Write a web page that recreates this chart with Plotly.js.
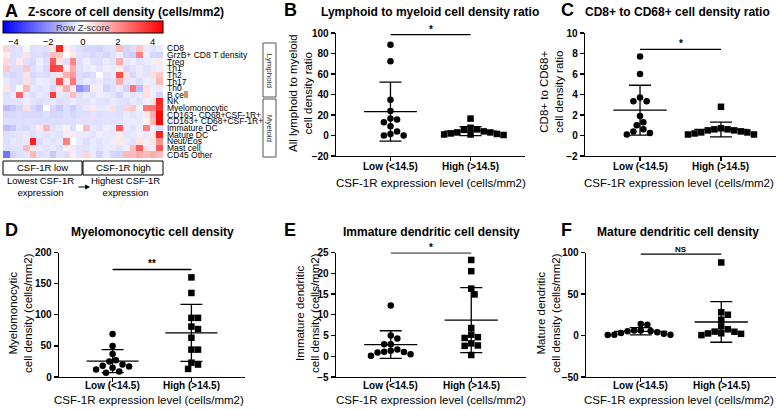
<!DOCTYPE html>
<html>
<head>
<meta charset="utf-8">
<script src="https://cdn.plot.ly/plotly-3.0.1.min.js"></script>
<style>html,body{margin:0;padding:0;background:#fff;}#chart{width:778px;height:410px;}</style>
</head>
<body>
<div id="chart"></div>
<script>
// ---------------- DATA ----------------
const rowLabels = ['CD8','GrzB+ CD8 T density','Treg','Th1','Th2','Th17','Th0','B cell','NK','Myelomonocytic',
  'CD163- CD68+CSF-1R+','CD163+ CD68+CSF-1R+','Immature DC','Mature DC','Neut/Eos','Mast cell','CD45 Other'];
// z-scores, 24 samples (12 CSF-1R low, then 12 CSF-1R high)
const zCD8     = [0.8,-0.6,-0.5,-0.2,-0.6,-0.5,-0.6,0.4,4.0,0.3,-0.4,-0.6, -0.7,-0.7,-0.8,-0.6,-0.5,1.2,-0.8,-0.6,1.0,-0.4,-0.5,-0.4];
const zGrzB    = [0.4,-0.6,-0.5,0.5,-0.6,-0.6,-0.7,1.2,1.0,0.0,0.4,-0.5, -0.6,-0.7,-0.6,-0.7,-0.5,-0.3,-0.8,-0.9,2.3,-0.3,-0.7,-0.8];
const zTreg    = [0.7,-0.6,0.4,-0.6,-0.7,-0.3,-0.6,3.0,0.5,-0.6,2.2,-0.6, -0.3,-0.5,-0.6,-0.4,-0.5,1.5,-0.4,-0.3,-0.5,-0.4,-0.3,0.4];
const zTh1     = [1.0,-0.6,-0.6,1.0,-0.6,-0.4,-0.7,3.5,3.3,0.4,1.5,-0.6, -0.4,-0.3,-0.5,-0.3,-0.4,0.4,-0.7,-0.5,-0.4,-0.5,-0.4,-0.3];
const zTh2     = [-0.6,-0.7,-0.6,0.5,-0.7,-0.6,-0.6,-0.5,0.5,1.5,1.8,-0.6, -0.7,-0.6,0.0,-0.5,-0.4,3.2,0.6,-0.7,-0.4,-0.5,0.6,1.0];
const zTh17    = [-0.4,-0.6,-0.6,0.5,-0.6,-0.3,-0.4,-0.5,3.2,0.3,2.5,-0.6, -0.4,-0.5,-0.4,-0.6,-0.5,1.5,-0.5,-0.4,-0.6,-0.3,-0.4,1.3];
const zTh0     = [0.5,-0.6,0.0,1.3,-0.4,-0.5,-0.4,-0.7,0.5,1.5,0.4,-2.0, -1.5,0.4,-0.3,-0.8,-0.6,-0.4,-0.8,2.5,-1.2,0.6,-0.3,-0.4];
const zBcell   = [-0.6,-0.4,2.8,-0.4,-0.6,-0.4,-0.5,3.5,-0.4,-0.5,1.2,-0.6, -0.4,-0.5,-0.3,-0.4,-0.5,-0.8,-0.4,-0.5,-0.4,0.6,-0.3,-0.8];
const zNK      = [-0.5,-0.5,-0.5,-0.3,-0.5,-0.6,-0.5,-0.4,-0.6,-0.5,-0.4,-0.5, -0.5,-0.4,-0.5,-0.5,-0.4,-0.5,-0.6,-0.4,-0.5,-0.3,0.5,4.0];
const zMyelo   = [-1.2,-1.0,-0.7,0.6,-0.7,-1.0,0.0,-0.7,-1.0,-0.6,-0.9,-0.6, -0.4,0.4,-0.4,-0.4,0.6,-0.6,0.8,1.0,-0.3,2.5,2.5,3.8];
const zCD163n  = [-0.7,-0.7,-0.6,-0.7,-0.7,-0.7,-0.6,-0.7,-0.7,-0.6,-0.7,-0.6, -0.6,-0.5,-0.6,-0.5,-0.5,-0.6,-0.4,-0.5,-0.4,0.4,1.5,4.5];
const zCD163p  = [-0.6,-0.6,-0.6,-0.6,-0.6,-0.6,-0.6,-0.6,-0.6,-0.6,-0.6,-0.5, -0.5,-0.5,-0.5,-0.5,-0.5,-0.5,-0.4,-0.4,-0.4,0.2,1.3,4.5];
const zImmDC   = [-1.2,-1.0,-0.6,-0.7,-0.5,0.4,1.3,-0.5,-0.4,0.3,-0.6,0.0, 1.2,-0.4,-0.5,-0.3,-0.4,3.0,-0.4,-0.5,-0.3,2.3,-0.3,-0.6];
const zMatDC   = [-0.6,-0.5,-0.5,-0.4,-0.6,-0.4,-0.5,-0.4,-0.5,-0.3,0.4,-0.4, -0.4,-0.5,-0.3,-0.4,-0.4,0.4,-0.5,-0.4,-0.3,-0.4,0.4,4.0];
const zNeut    = [-0.6,-0.4,-0.5,-0.4,4.0,-0.6,-0.4,-0.5,-0.4,2.3,0.0,-0.4, -0.6,-0.4,-0.5,-0.4,-0.3,0.4,-0.4,-0.5,0.5,-0.3,0.5,2.0];
const zMast    = [-0.6,-0.5,-0.5,1.2,0.4,-0.4,-0.5,-0.4,-0.6,0.3,-0.4,-0.5, -0.5,-0.4,-0.5,-0.4,-0.4,-0.5,-0.3,1.2,3.0,0.5,-0.3,3.0];
const zCD45    = [-2.5,-0.8,-0.6,-0.5,1.3,-0.6,-0.5,-1.0,-0.5,-0.6,0.4,-0.5, 0.8,-0.4,-0.8,-0.4,-0.7,-0.8,1.3,1.2,1.5,1.2,1.5,1.2];

const groupLabels = ['Low (<14.5)','High (>14.5)'];
// B: lymphoid to myeloid ratio
const ratioLow  = [88.5,72.5,35,24,16.5,15.5,13,9,4,1.5,0,0];
const ratioHigh = [16.5,7.5,5.5,3,2,1,0.5,1,1.5,3,4,6];
// C: CD8+ to CD68+ ratio
const cd8Low  = [7.7,6.0,3.7,3.35,3.35,1.9,1.3,1.0,0.6,0.4,0.25,0.1];
const cd8High = [2.8,0.7,0.6,0.5,0.4,0.3,0.2,0.1,0.1,0.3,0.5,0.6];
// D: myelomonocytic density
const myeloLow  = [69,50,37,27,25,20,18,17,15,12,9,7];
const myeloHigh = [160,135,95,95,81,77,63,44,44,23,20,13];
// E: immature DC density
const immLow  = [12.2,5.0,4.3,2.9,2.9,1.6,1.3,1.1,1.0,0.9,0.5,0.1];
const immHigh = [23.2,20.5,16.3,14.9,6.8,5.2,4.6,4.4,3.1,2.6,2.5,0.3];
// F: mature DC density
const matLow  = [14,13,6,6,5.5,5,4,3,2,1,1,0.5];
const matHigh = [88,28,25,19,11,7.5,4.7,4.5,2.7,2.5,2,0.5];

const sigLevels = [98.5, 8.4, 172.7, 24.9, 98];
const sigLabels = ['*','*','**','*','NS'];

// ---------------- HELPERS ----------------
const W = 778, H = 410;
const FONT = 'Liberation Sans, Arial, sans-serif';
const px = x => x / W;
const py = y => 1 - y / H;

function mean(a){return a.reduce((s,v)=>s+v,0)/a.length;}
function sd(a){const m=mean(a);return Math.sqrt(a.reduce((s,v)=>s+(v-m)*(v-m),0)/(a.length-1));}

// beeswarm offsets (in x units) so markers do not overlap
function swarm(vals, yr, hPx, pxPerUnit, d){
  const order = vals.map((v,i)=>i).sort((a,b)=>vals[b]-vals[a]);
  const placed = []; const off = new Array(vals.length).fill(0);
  order.forEach(i=>{
    const yp = (vals[i]-yr[0])/(yr[1]-yr[0])*hPx;
    const cands=[0];
    for(let k=1;k<12;k++){cands.push(k*d/2);cands.push(-k*d/2);}
    for(const c of cands){
      let ok = true;
      for(const p of placed){const ddx=c-p[0],ddy=yp-p[1];if(ddx*ddx+ddy*ddy<d*d*0.92){ok=false;break;}}
      if(ok){off[i]=c/pxPerUnit;placed.push([c,yp]);break;}
    }
  });
  return off;
}

const panels = [
  {id:2, L:336, R:525, T:33,  B:156, yr:[-20,100], dtick:20, low:ratioLow, high:ratioHigh,
   title:'Lymphoid to myeloid cell density ratio', tcx:430, ty:12, letter:'B', lx:282, ly:10,
   ytitle:'All lymphoid to myeloid<br>cell density ratio', ytx:301, yty:93, xtx:431, xty:183, xly:166},
  {id:3, L:585, R:776, T:33,  B:156, yr:[-2,10], dtick:2, low:cd8Low, high:cd8High,
   title:'CD8+ to CD68+ cell density ratio', tcx:677, ty:12, letter:'C', lx:559, ly:10,
   ytitle:'CD8+ to CD68+<br>cell density ratio', ytx:552, yty:92, xtx:679, xty:183, xly:166},
  {id:4, L:59,  R:245, T:252.5, B:377, yr:[0,200], dtick:50, low:myeloLow, high:myeloHigh,
   title:'Myelomonocytic cell density', tcx:152, ty:232, letter:'D', lx:3, ly:230,
   ytitle:'Myelomonocytic<br>cell density (cells/mm2)', ytx:20, yty:313, xtx:149, xty:400, xly:385.5},
  {id:5, L:336, R:526, T:252.5, B:377, yr:[-5,25], dtick:5, low:immLow, high:immHigh,
   title:'Immature dendritic cell density', tcx:431, ty:232, letter:'E', lx:282, ly:230,
   ytitle:'Immature dendritic<br>cell density (cells/mm2)', ytx:307, yty:313, xtx:431, xty:400, xly:385.5},
  {id:6, L:586, R:776, T:252.5, B:377, yr:[-50,100], dtick:50, low:matLow, high:matHigh,
   title:'Mature dendritic cell density', tcx:678, ty:232, letter:'F', lx:559, ly:230,
   ytitle:'Mature dendritic<br>cell density (cells/mm2)', ytx:548, yty:313, xtx:679, xty:400, xly:385.5}
];
const XR = [-0.68, 1.68];

const traces = [];
const layout = {
  width: W, height: H, margin:{l:0,r:0,t:0,b:0}, showlegend:false,
  paper_bgcolor:'#fff', plot_bgcolor:'rgba(0,0,0,0)',
  font:{family:FONT, color:'#000'},
  annotations:[], shapes:[]
};

// ---------------- HEATMAP (panel A) ----------------
const zRows = [zCD8,zGrzB,zTreg,zTh1,zTh2,zTh17,zTh0,zBcell,zNK,zMyelo,zCD163n,zCD163p,zImmDC,zMatDC,zNeut,zMast,zCD45];
traces.push({
  type:'heatmap', z:zRows, y:rowLabels, xaxis:'x', yaxis:'y',
  zmin:-4.6, zmax:4.6,
  colorscale:[[0,'rgb(0,0,255)'],[0.5,'rgb(255,255,255)'],[1,'rgb(255,0,0)']],
  colorbar:{orientation:'h', x:px(3), xanchor:'left', y:py(21), yanchor:'top',
    len:160, lenmode:'pixels', thickness:12, thicknessmode:'pixels', xpad:0, ypad:0,
    outlinewidth:1, outlinecolor:'#000', tickvals:[-4,-2,0,2,4], ticks:'', ticklabelposition:'outside bottom',
    tickfont:{size:9.5, family:FONT, color:'#000'}},
  hoverinfo:'skip'
});
layout.xaxis = {domain:[px(3),px(163)], anchor:'y', showticklabels:false, showgrid:false, zeroline:false, ticks:'', range:[-0.5,23.5]};
layout.yaxis = {domain:[py(158),py(45)], anchor:'x', side:'right', autorange:'reversed', showgrid:false, zeroline:false,
  tickmode:'array', tickvals:rowLabels, ticktext:rowLabels,
  ticks:'', tickfont:{size:8.5, family:FONT, color:'#000'}, ticklabelstandoff:3};

const A = layout.annotations, S = layout.shapes;
function txt(x,y,text,opts){A.push(Object.assign({xref:'paper',yref:'paper',x:px(x),y:py(y),text:text,showarrow:false,
  xanchor:'center',yanchor:'middle',font:{family:FONT,size:11,color:'#000'}},opts||{}));}

txt(3,11,'<b>A</b>',{xanchor:'left',font:{family:FONT,size:18,color:'#000'}});
txt(26,12,'<b>Z-score of cell density (cells/mm2)</b>',{xanchor:'left',font:{family:FONT,size:12,color:'#000'}});
txt(83,27,'Row Z-score',{font:{family:FONT,size:9.5,color:'#333'}});
// group boxes under heatmap
S.push({type:'rect',xref:'paper',yref:'paper',x0:px(3),x1:px(82),y0:py(175),y1:py(161),line:{color:'#000',width:1}});
S.push({type:'rect',xref:'paper',yref:'paper',x0:px(83),x1:px(163),y0:py(175),y1:py(161),line:{color:'#000',width:1}});
txt(42.5,168,'CSF-1R low',{font:{family:FONT,size:9.5,color:'#000'}});
txt(123,168,'CSF-1R high',{font:{family:FONT,size:9.5,color:'#000'}});
txt(40,187,'Lowest CSF-1R<br>expression',{font:{family:FONT,size:9.5,color:'#000'}});
txt(126,187,'Highest CSF-1R<br>expression',{font:{family:FONT,size:9.5,color:'#000'}});
A.push({xref:'paper',yref:'paper',x:px(90),y:py(187),ax:-13,ay:0,text:'',showarrow:true,arrowhead:2,arrowsize:0.8,arrowwidth:1.2,arrowcolor:'#000'});
// lymphoid / myeloid side boxes
S.push({type:'rect',xref:'paper',yref:'paper',x0:px(263),x1:px(276),y0:py(97),y1:py(43),line:{color:'#555',width:1}});
S.push({type:'rect',xref:'paper',yref:'paper',x0:px(263),x1:px(276),y0:py(157),y1:py(99),line:{color:'#555',width:1}});
txt(269.5,70,'Lymphoid',{textangle:90,font:{family:FONT,size:8,color:'#333'}});
txt(269.5,128,'Myeloid',{textangle:90,font:{family:FONT,size:8,color:'#333'}});

// ---------------- SCATTER PANELS ----------------
panels.forEach((p,k)=>{
  const xa='x'+p.id, ya='y'+p.id;
  const hPx = p.B - p.T, pxPerUnit = (p.R - p.L)/(XR[1]-XR[0]);
  layout['xaxis'+p.id] = {domain:[px(p.L),px(p.R)], anchor:ya, range:XR, showgrid:false, zeroline:false,
    showline:true, linecolor:'#000', linewidth:1.3, ticks:'outside', ticklen:4, tickwidth:1.3, tickcolor:'#000',
    tickvals:[0,1], showticklabels:false};
  layout['yaxis'+p.id] = {domain:[py(p.B),py(p.T)], anchor:xa, range:p.yr, showgrid:false, zeroline:false,
    showline:true, linecolor:'#000', linewidth:1.3, ticks:'outside', ticklen:4, tickwidth:1.3, tickcolor:'#000',
    dtick:p.dtick, tick0:p.yr[0], tickfont:{family:FONT,size:10,weight:'bold',color:'#000'}};
  groupLabels.forEach((g,c)=>{
    A.push({xref:xa,yref:'paper',x:c,y:py(p.xly),text:'<b>'+g+'</b>',showarrow:false,xanchor:'center',yanchor:'middle',
      font:{family:FONT,size:10,color:'#000'}});
  });
  [[p.low,0,'circle'],[p.high,1,'square']].forEach(([vals,c,sym])=>{
    const off = swarm(vals,p.yr,hPx,pxPerUnit,6.6);
    traces.push({type:'scatter',mode:'markers',xaxis:xa,yaxis:ya,x:vals.map((v,i)=>c+off[i]),y:vals,
      marker:{symbol:sym,size:6.5,color:'#000'},hoverinfo:'skip'});
    const m = mean(vals), s = sd(vals);
    traces.push({type:'scatter',mode:'lines',xaxis:xa,yaxis:ya,x:[c-0.33,c+0.33],y:[m,m],
      line:{color:'#000',width:1.3},hoverinfo:'skip'});
    traces.push({type:'scatter',mode:'markers',xaxis:xa,yaxis:ya,x:[c],y:[m],
      marker:{size:1,color:'rgba(0,0,0,0)'},
      error_y:{type:'data',array:[s],visible:true,color:'#000',thickness:1.3,width:11},hoverinfo:'skip'});
  });
  // significance bar
  S.push({type:'line',xref:xa,yref:ya,x0:0,x1:1,y0:sigLevels[k],y1:sigLevels[k],line:{color:'#000',width:1.3}});
  A.push({xref:xa,yref:ya,x:0.5,y:sigLevels[k],text:'<b>'+sigLabels[k]+'</b>',showarrow:false,yanchor:'bottom',yshift:-2,
    font:{family:FONT,size:sigLabels[k]==='NS'?8:10,color:'#000'}});
  // titles
  txt(p.lx,p.ly,'<b>'+p.letter+'</b>',{xanchor:'left',font:{family:FONT,size:18,color:'#000'}});
  txt(p.tcx,p.ty,'<b>'+p.title+'</b>',{font:{family:FONT,size:12,color:'#000'}});
  txt(p.ytx,p.yty,p.ytitle,{textangle:-90,font:{family:FONT,size:11.5,color:'#000'}});
  txt(p.xtx,p.xty,'CSF-1R expression level (cells/mm2)',{font:{family:FONT,size:11.5,color:'#000'}});
});

Plotly.newPlot('chart', traces, layout, {displayModeBar:false, staticPlot:true});
</script>
</body>
</html>
